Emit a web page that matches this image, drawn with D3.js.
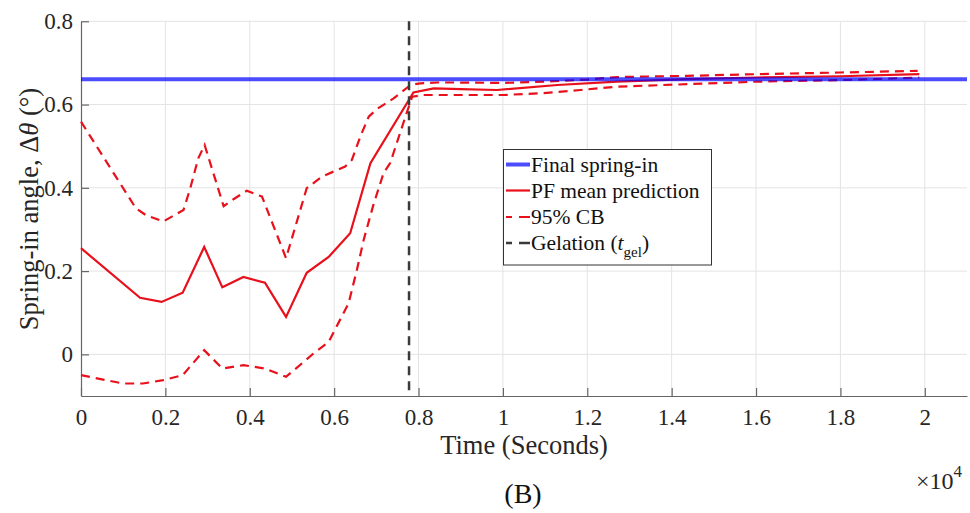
<!DOCTYPE html>
<html>
<head>
<meta charset="utf-8">
<script src="https://cdn.jsdelivr.net/npm/d3@7"></script>
<style>
  html, body { margin: 0; padding: 0; background: #fff; }
  svg { display: block; font-family: "Liberation Serif", serif; }
  svg text { font-family: "Liberation Serif", serif; }
</style>
</head>
<body>
<svg id="chart" width="970" height="513"></svg>
<script>
// ---- data (time in units of 1e4 s) ----
const meanT = [0, 0.14, 0.191, 0.241, 0.292, 0.335, 0.385, 0.436, 0.486, 0.535, 0.587, 0.638, 0.686, 0.788, 0.836, 0.899, 0.986, 1.129, 1.271, 1.437, 1.6, 1.8, 1.987];
const meanV = [0.255, 0.136, 0.126, 0.148, 0.258, 0.161, 0.186, 0.172, 0.090, 0.196, 0.234, 0.291, 0.459, 0.629, 0.639, 0.637, 0.635, 0.647, 0.655, 0.661, 0.665, 0.668, 0.673];

const upperT = [0, 0.13, 0.153, 0.195, 0.243, 0.259, 0.278, 0.293, 0.338, 0.365, 0.393, 0.429, 0.486, 0.535, 0.571, 0.626, 0.642, 0.662, 0.682, 0.701, 0.741, 0.781, 0.804, 0.844, 0.891, 1.0, 1.1, 1.2, 1.271, 1.437, 1.6, 1.8, 1.983];
const upperV = [0.559, 0.351, 0.335, 0.319, 0.347, 0.399, 0.471, 0.503, 0.356, 0.375, 0.393, 0.379, 0.231, 0.399, 0.427, 0.451, 0.467, 0.523, 0.571, 0.589, 0.615, 0.647, 0.651, 0.653, 0.653, 0.652, 0.655, 0.660, 0.666, 0.669, 0.673, 0.677, 0.681];

const lowerT = [0, 0.1, 0.147, 0.195, 0.241, 0.292, 0.335, 0.385, 0.436, 0.486, 0.551, 0.587, 0.634, 0.654, 0.670, 0.693, 0.717, 0.733, 0.769, 0.785, 0.812, 0.899, 1.0, 1.089, 1.184, 1.271, 1.437, 1.6, 1.809, 1.987];
const lowerV = [-0.050, -0.070, -0.070, -0.062, -0.050, 0.010, -0.034, -0.026, -0.034, -0.054, 0.002, 0.030, 0.122, 0.203, 0.275, 0.359, 0.435, 0.460, 0.571, 0.619, 0.623, 0.623, 0.623, 0.627, 0.635, 0.643, 0.649, 0.655, 0.659, 0.665];

const finalSpringIn = 0.661;
const gelationTime = 0.7775;

const xTicks = [0, 0.2, 0.4, 0.6, 0.8, 1, 1.2, 1.4, 1.6, 1.8, 2];
const yTicks = [0, 0.2, 0.4, 0.6, 0.8];
const xDomain = [0, 2.1];
const yDomain = [-0.1, 0.8];

// ---- layout ----
const FONT = "Liberation Serif";
const svg = d3.select("#chart");
const L = 81, R = 967, T = 21.3, B = 396;
const x = d3.scaleLinear().domain(xDomain).range([L, R]);
const y = d3.scaleLinear().domain(yDomain).range([B, T]);

// grid
const grid = svg.append("g").attr("stroke", "#e3e3e3").attr("stroke-width", 1);
grid.selectAll("line.gx").data(xTicks.filter(d => d > 0)).join("line")
  .attr("x1", d => x(d)).attr("x2", d => x(d)).attr("y1", T).attr("y2", B);
grid.selectAll("line.gy").data(yTicks).join("line")
  .attr("x1", L).attr("x2", R).attr("y1", d => y(d)).attr("y2", d => y(d));

// axes (MATLAB style: inward ticks)
const fmt = d => String(d);
const xAxis = svg.append("g").attr("transform", `translate(0,${B})`)
  .call(d3.axisBottom(x).tickValues(xTicks).tickFormat(fmt).tickSizeInner(-8).tickSizeOuter(0).tickPadding(13));
const yAxis = svg.append("g").attr("transform", `translate(${L},0)`)
  .call(d3.axisLeft(y).tickValues(yTicks).tickFormat(fmt).tickSizeInner(-8).tickSizeOuter(0).tickPadding(8));
[xAxis, yAxis].forEach(a => {
  a.attr("font-family", FONT).attr("font-size", 23);
  a.select(".domain").attr("stroke", "#666").attr("stroke-width", 1.2);
  a.selectAll(".tick line").attr("stroke", "#666").attr("stroke-width", 1.2);
  a.selectAll(".tick text").attr("fill", "#262626")
    .attr("font-family", FONT).attr("font-size", 23);
});

// lines
const line = d3.line().x(d => x(d[0])).y(d => y(d[1]));
const zip = (a, b) => a.map((t, i) => [t, b[i]]);
const red = "#e8101a";

svg.append("path").datum(zip(upperT, upperV)).attr("d", line)
  .attr("fill", "none").attr("stroke", red).attr("stroke-width", 2.2).attr("stroke-dasharray", "9,6");
svg.append("path").datum(zip(lowerT, lowerV)).attr("d", line)
  .attr("fill", "none").attr("stroke", red).attr("stroke-width", 2.2).attr("stroke-dasharray", "9,6");
svg.append("path").datum(zip(meanT, meanV)).attr("d", line)
  .attr("fill", "none").attr("stroke", red).attr("stroke-width", 2.2);

// gelation vertical
svg.append("line")
  .attr("x1", x(gelationTime)).attr("x2", x(gelationTime)).attr("y1", T).attr("y2", B)
  .attr("stroke", "#3a3a3a").attr("stroke-width", 2.5).attr("stroke-dasharray", "9,6");

// final spring-in
svg.append("line")
  .attr("x1", x(xDomain[0])).attr("x2", x(xDomain[1])).attr("y1", y(finalSpringIn)).attr("y2", y(finalSpringIn))
  .attr("stroke", "rgb(0,0,255)").attr("stroke-opacity", 0.7).attr("stroke-width", 4);

// legend
const lg = svg.append("g").attr("font-family", FONT);
lg.append("rect").attr("x", 503.5).attr("y", 149.5).attr("width", 208).attr("height", 115.5)
  .attr("fill", "#fff").attr("stroke", "#333").attr("stroke-width", 1);
const items = [
  { label: "Final spring-in", stroke: "rgb(0,0,255)", op: 0.7, w: 4, dash: null },
  { label: "PF mean prediction", stroke: red, op: 1, w: 2.2, dash: null },
  { label: "95% CB", stroke: red, op: 1, w: 2.2, dash: "6,7,12" },
  { label: "Gelation", stroke: "#3a3a3a", op: 1, w: 2.5, dash: "6,7,12" }
];
const rowY = [164.5, 190.5, 217, 243];
items.forEach((it, i) => {
  const ln = lg.append("line").attr("x1", 506).attr("x2", 530).attr("y1", rowY[i]).attr("y2", rowY[i])
    .attr("stroke", it.stroke).attr("stroke-opacity", it.op).attr("stroke-width", it.w);
  if (it.dash) ln.attr("stroke-dasharray", it.dash);
  const t = lg.append("text").attr("x", 531).attr("y", rowY[i] + 7).attr("font-size", 21.5).attr("fill", "#111");
  if (i === 3) {
    t.append("tspan").text("Gelation (");
    t.append("tspan").attr("font-style", "italic").text("t");
    t.append("tspan").attr("font-size", 15).attr("dy", 7).text("gel");
    t.append("tspan").attr("dy", -7).text(")");
  } else {
    t.text(it.label);
  }
});

// axis titles
svg.append("text").attr("x", 524).attr("y", 454).attr("text-anchor", "middle")
  .attr("font-family", FONT).attr("font-size", 26.5).attr("fill", "#262626").text("Time (Seconds)");

const yl = svg.append("text").attr("transform", "translate(38,209) rotate(-90)")
  .attr("text-anchor", "middle").attr("font-family", FONT).attr("font-size", 26.5).attr("fill", "#262626");
yl.append("tspan").text("Spring-in angle, Δ");
yl.append("tspan").attr("font-style", "italic").text("θ");
yl.append("tspan").text(" (°)");

// exponent
const ex = svg.append("text").attr("x", 916).attr("y", 489).attr("font-family", FONT).attr("font-size", 24).attr("fill", "#262626");
ex.append("tspan").text("×10");
ex.append("tspan").attr("font-size", 17).attr("dy", -12).text("4");

// panel label
svg.append("text").attr("x", 523).attr("y", 503).attr("text-anchor", "middle")
  .attr("font-family", FONT).attr("font-size", 28).attr("fill", "#111").text("(B)");
</script>
</body>
</html>
